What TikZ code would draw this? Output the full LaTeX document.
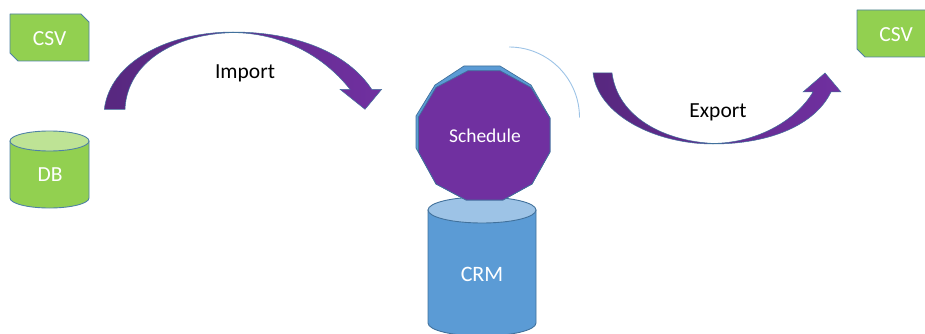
\documentclass[tikz,border=0pt]{standalone}
\usepackage{fontspec}
\setmainfont{Carlito}
\definecolor{grn}{HTML}{92D050}
\definecolor{grnl}{HTML}{BEE395}
\definecolor{grnb}{HTML}{4F81A5}
\definecolor{blu}{HTML}{5B9BD5}
\definecolor{blul}{HTML}{9DC3E6}
\definecolor{blub}{HTML}{41719C}
\definecolor{pur}{HTML}{7030A0}
\definecolor{purd}{HTML}{57287F}
\tikzset{
  greenshape/.style={fill=grn,draw=grnb,line width=0.9pt,line join=round},
  greentop/.style={fill=grnl,draw=grnb,line width=0.9pt},
  blueshape/.style={fill=blu,draw=blub,line width=0.9pt},
  bluetop/.style={fill=blul,draw=blub,line width=0.9pt},
  bendarrow/.style={left color=purd,right color=pur,draw=blub,line width=0.5pt,line join=miter},
  whitelabel/.style={text=white,font=\fontsize{21.5}{24}\selectfont,inner sep=0pt},
  blacklabel/.style={text=black,font=\fontsize{21.5}{24}\selectfont,inner sep=0pt},
}
\begin{document}
\begin{tikzpicture}[x=1pt,y=-1pt]
\useasboundingbox (0,0) rectangle (925,334);
\clip (0,0) rectangle (925,334);
% CSV left
\draw[greenshape] (10,14) -- (81,14) -- (89,22) -- (89,61) -- (18,61) -- (10,53) -- cycle;
\node[whitelabel] (csvleft) at (49.5,38.5) {CSV};
% DB
\draw[greenshape] (10,141) -- (10,198) arc[start angle=180,end angle=0,x radius=39.5,y radius=10] -- (89,141) -- cycle;
\draw[greentop] (49.5,141) ellipse[x radius=39.5,y radius=10];
\node[whitelabel] (db) at (50,175) {DB};
% Import arrow
\shadedraw[bendarrow] (104.3,109.3) .. controls (110,62) and (168,32) .. (233,32)
  .. controls (295,32) and (347,52) .. (371.7,89.3) -- (381.7,89.3) -- (365,109.3) -- (340,89.3) -- (350,89.3)
  .. controls (322,54) and (280,33) .. (233,32.6)
  .. controls (175,34) and (127,62) .. (125,109.3) -- cycle;
\node[blacklabel] (import) at (245,73) {Import};
% CRM
\draw[blueshape] (428,210) -- (428,323) arc[start angle=180,end angle=0,x radius=54,y radius=13] -- (536,210) -- cycle;
\draw[bluetop] (482,210) ellipse[x radius=54,y radius=13];
\node[whitelabel,font=\fontsize{22}{24}\selectfont] (crm) at (482,274) {CRM};
% Schedule
\draw[fill=blu,draw=blub,line width=0.7pt] (464,66) -- (500,66) -- (531,85) -- (550,118) -- (550,152) -- (532,184) -- (503,200) -- (466,200) -- (436,184) -- (416,148) -- (416,116) -- (435,85) -- cycle;
\draw[fill=pur,draw=blub,line width=0.7pt] (468,70.7) -- (500,70.7) -- (531,87.5) -- (550,118) -- (550,152) -- (532,184) -- (503,200) -- (466,200) -- (436,184) -- (418.5,152) -- (418.5,117) -- (436,87.5) -- cycle;
\node[whitelabel,font=\fontsize{19.5}{22}\selectfont] (schedule) at (485,136) {Schedule};
% thin arc
\draw[blul,line width=0.9pt] (509,47) arc[start angle=-90,end angle=0,radius=70.5];
% Export arrow
\shadedraw[bendarrow] (593,73) .. controls (598,115) and (655,144) .. (713,144)
  .. controls (770,144) and (815,125) .. (831,92) -- (841,92) -- (825,73) -- (803,92) -- (813,92)
  .. controls (795,122) and (755,143) .. (713,143.4)
  .. controls (665,141) and (618,118) .. (612,73) -- cycle;
\node[blacklabel] (export) at (718,112) {Export};
% CSV right
\draw[greenshape] (857,10) -- (930,10) -- (930,57) -- (865,57) -- (857,49) -- cycle;
\node[whitelabel] (csvright) at (896,35) {CSV};
\end{tikzpicture}
\end{document}
